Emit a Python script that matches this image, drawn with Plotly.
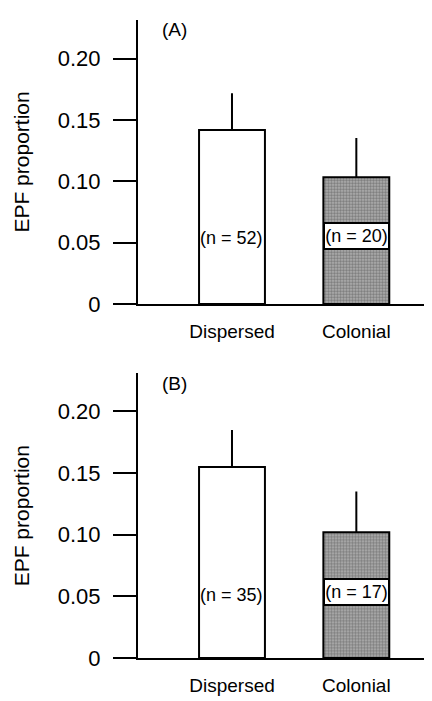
import plotly.graph_objects as go

categories = ["Dispersed", "Colonial"]
panel_labels = ["(A)", "(B)"]
means_A = [0.142, 0.1035]
errors_A = [0.030, 0.032]
n_A = ["(n = 52)", "(n = 20)"]
means_B = [0.155, 0.102]
errors_B = [0.030, 0.033]
n_B = ["(n = 35)", "(n = 17)"]
tick_vals = [0, 0.05, 0.10, 0.15, 0.20]
tick_text = ["0", "0.05", "0.10", "0.15", "0.20"]
y_title = "EPF proportion"

W, H = 432, 701
FONT = "Liberation Sans, Arial, Helvetica, sans-serif"

fig = go.Figure()

panels = [
    dict(means=means_A, errors=errors_A, ns=n_A, label=panel_labels[0],
         xa="x", ya="y", ydom=[(H - 301.7) / H, (H - 12) / H], ymax=0.2318,
         label_y=[0.054, 0.0555]),
    dict(means=means_B, errors=errors_B, ns=n_B, label=panel_labels[1],
         xa="x2", ya="y2", ydom=[(H - 662.3) / H, (H - 372.3) / H], ymax=0.2309,
         label_y=[0.051, 0.0532]),
]

for p in panels:
    fig.add_trace(go.Bar(
        x=categories, y=p["means"], xaxis=p["xa"], yaxis=p["ya"],
        width=0.53,
        marker=dict(
            color=["white", "#b5b5b5"],
            line=dict(color="black", width=2),
            pattern=dict(shape=["", "."], size=3, solidity=0.6,
                         fgcolor="#222222", fillmode="overlay"),
        ),
        error_y=dict(type="data", symmetric=False, array=p["errors"],
                     arrayminus=[0, 0], width=0, thickness=2, color="black"),
        showlegend=False, hoverinfo="skip",
    ))

x_dom = [130 / W, 1.0]
x_range = [-0.756, 1.673]

axis_common_x = dict(domain=x_dom, range=x_range, showline=True, linecolor="black",
                     linewidth=2, ticks="", showgrid=False, zeroline=False,
                     tickfont=dict(family=FONT, size=19, color="black"),
                     ticklabelstandoff=9, fixedrange=True)
axis_common_y = dict(showline=True, linecolor="black", linewidth=2, ticks="outside",
                     ticklen=23, tickwidth=2, tickcolor="black", showgrid=False,
                     zeroline=False, tickvals=tick_vals, ticktext=tick_text,
                     tickfont=dict(family=FONT, size=22, color="black"),
                     ticklabelstandoff=8,
                     title=dict(text=y_title, font=dict(family=FONT, size=21, color="#000000"),
                                standoff=22))

fig.update_layout(
    xaxis=dict(**axis_common_x, anchor="y"),
    xaxis2=dict(**axis_common_x, anchor="y2"),
    yaxis=dict(**axis_common_y, domain=panels[0]["ydom"], range=[0, panels[0]["ymax"]], anchor="x"),
    yaxis2=dict(**axis_common_y, domain=panels[1]["ydom"], range=[0, panels[1]["ymax"]], anchor="x2"),
)

annotations = []
for p in panels:
    for i, cat in enumerate(categories):
        boxed = i == 1
        annotations.append(dict(
            x=cat, y=p["label_y"][i], xref=p["xa"], yref=p["ya"],
            text=p["ns"][i], showarrow=False,
            font=dict(family=FONT, size=18, color="black"),
            bgcolor="white" if boxed else "rgba(0,0,0,0)",
            bordercolor="black" if boxed else "rgba(0,0,0,0)",
            borderwidth=2 if boxed else 0, borderpad=0,
            width=63 if boxed else None, height=24 if boxed else None,
            align="center",
        ))
    annotations.append(dict(
        x=-0.46, xref=p["xa"], y=p["ymax"] * 0.965, yref=p["ya"],
        text=p["label"], showarrow=False,
        font=dict(family=FONT, size=19, color="black"),
    ))

fig.update_layout(
    annotations=annotations,
    width=W, height=H,
    margin=dict(l=0, r=0, t=0, b=0),
    paper_bgcolor="white", plot_bgcolor="white",
    bargap=0.3,
)

fig.write_html("out.html", config={"displayModeBar": False})
